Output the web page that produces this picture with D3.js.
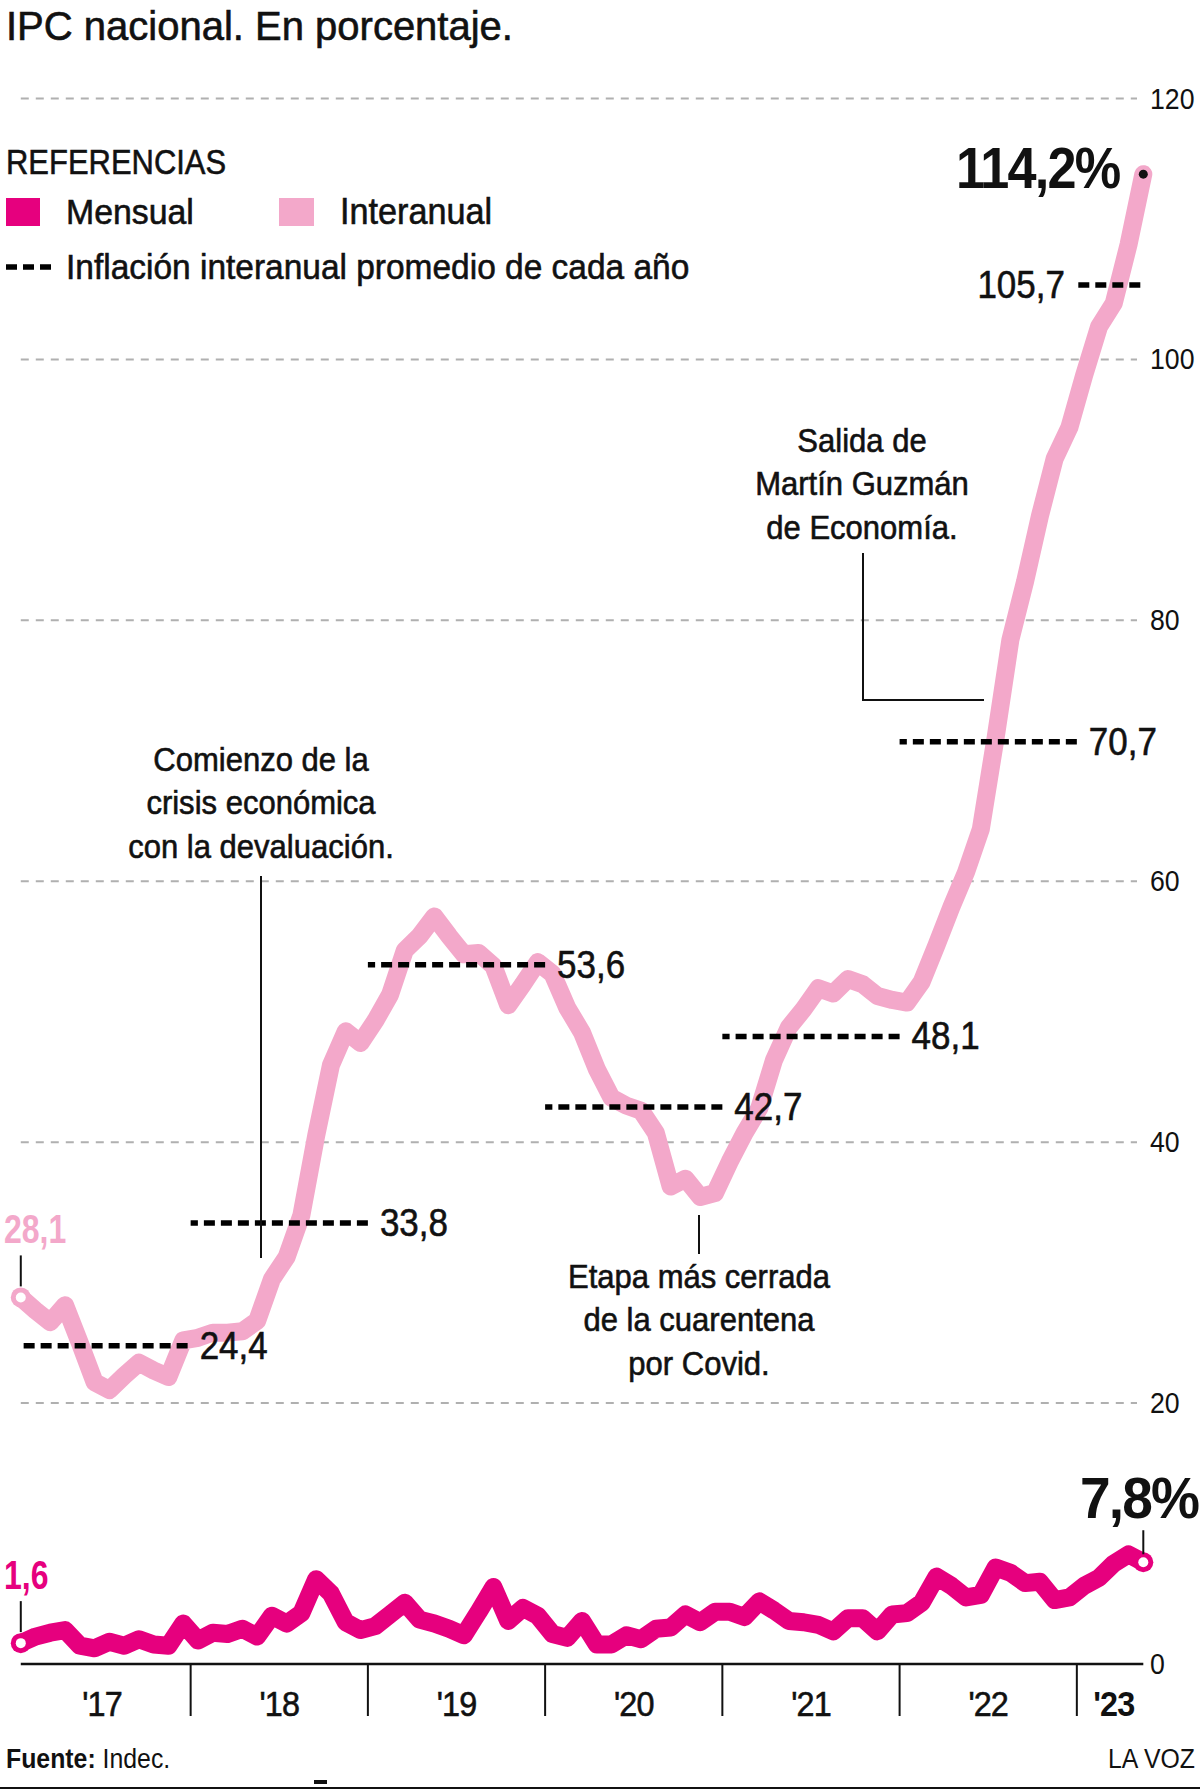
<!DOCTYPE html>
<meta charset="utf-8">
<script src="https://cdn.jsdelivr.net/npm/d3@7/dist/d3.min.js"></script>
<style>
body { margin: 0; background: #fff; }
text { font-family: "Liberation Sans", Arial, sans-serif; fill: #111; }
.med { stroke: #111; stroke-width: 0.6px; }
.grid { stroke: #b0b0b0; stroke-width: 2px; stroke-dasharray: 8,7; }
.avg { stroke: #000; stroke-width: 5.5px; stroke-dasharray: 11,6; }
.leader { stroke: #111; stroke-width: 2px; fill: none; }
</style>
<body>
<script>

var years = ["'17", "'18", "'19", "'20", "'21", "'22", "'23"];

// Interanual (%), ene 2017 - may 2023
var interanual = [
  28.1, 27.1, 26.2, 27.5, 24.6, 21.6, 21.0, 22.1, 23.1, 22.5, 22.0, 24.8,
  25.0, 25.4, 25.4, 25.5, 26.3, 29.5, 31.2, 34.4, 40.5, 45.9, 48.5, 47.6,
  49.3, 51.3, 54.7, 55.8, 57.3, 55.8, 54.4, 54.5, 53.5, 50.5, 52.1, 53.8,
  52.9, 50.3, 48.4, 45.6, 43.4, 42.8, 42.4, 40.7, 36.6, 37.2, 35.8, 36.1,
  38.5, 40.7, 42.6, 46.3, 48.8, 50.2, 51.8, 51.4, 52.5, 52.1, 51.2, 50.9,
  50.7, 52.3, 55.1, 58.0, 60.7, 64.0, 71.0, 78.5, 83.0, 88.0, 92.4, 94.8,
  98.8, 102.5, 104.3, 108.8, 114.2
];

// Mensual (%)
var mensual = [
  1.6, 2.1, 2.4, 2.6, 1.4, 1.2, 1.7, 1.4, 1.9, 1.5, 1.4, 3.1,
  1.8, 2.4, 2.3, 2.7, 2.1, 3.7, 3.1, 3.9, 6.5, 5.4, 3.2, 2.6,
  2.9, 3.8, 4.7, 3.4, 3.1, 2.7, 2.2, 4.0, 5.9, 3.3, 4.3, 3.7,
  2.3, 2.0, 3.3, 1.5, 1.5, 2.2, 1.9, 2.7, 2.8, 3.8, 3.2, 4.0,
  4.0, 3.6, 4.8, 4.1, 3.3, 3.2, 3.0, 2.5, 3.5, 3.5, 2.5, 3.8,
  3.9, 4.7, 6.7, 6.0, 5.1, 5.3, 7.4, 7.0, 6.2, 6.3, 4.9, 5.1,
  6.0, 6.6, 7.7, 8.4, 7.8
];

// Inflación interanual promedio de cada año
var promedios = [24.4, 33.8, 53.6, 42.7, 48.1, 70.7, 105.7];
var promLabels = ["24,4", "33,8", "53,6", "42,7", "48,1", "70,7", "105,7"];

var yTicks = [0, 20, 40, 60, 80, 100, 120];

var width = 1200, height = 1789;
var magenta = "#e6007e", pink = "#f3a8ca";

var svg = d3.select("body").append("svg")
    .attr("width", width)
    .attr("height", height);

var n = interanual.length;
var slot = 14.77, x0 = 13.4;
var x = d3.scaleLinear().domain([0, n]).range([x0, x0 + n * slot]);
var y = d3.scaleLinear().domain([0, 120]).range([1664, 98.5]);
function px(i) { return x(i + 0.5); }

var xFirst = px(0), xLast = px(n - 1);

// condensed text: squeeze horizontally around an anchor point
function squeezed(xp, yp, k) {
  return "translate(" + xp + "," + yp + ") scale(" + k + ",1)";
}

// title
svg.append("text").attr("class", "med")
    .attr("x", 6).attr("y", 40)
    .style("font-size", "40px")
    .text("IPC nacional. En porcentaje.");

// grid + y labels
svg.selectAll(".grid")
    .data(yTicks.filter(function(d) { return d > 0; }))
    .enter().append("line")
    .attr("class", "grid")
    .attr("x1", xFirst).attr("x2", 1137)
    .attr("y1", function(d) { return y(d); })
    .attr("y2", function(d) { return y(d); });

svg.selectAll(".ylab")
    .data(yTicks)
    .enter().append("text")
    .attr("class", "ylab")
    .attr("transform", function(d) { return squeezed(1150, y(d) + 10, 0.92); })
    .style("font-size", "29px")
    .text(function(d) { return d; });

// legend
svg.append("text").attr("class", "med")
    .attr("transform", squeezed(6, 174, 0.86))
    .style("font-size", "36px").text("REFERENCIAS");
svg.append("rect").attr("x", 6).attr("y", 198).attr("width", 34).attr("height", 28).attr("fill", magenta);
svg.append("text").attr("class", "med")
    .attr("transform", squeezed(66, 224, 0.94))
    .style("font-size", "36px").text("Mensual");
svg.append("rect").attr("x", 279).attr("y", 198).attr("width", 35).attr("height", 28).attr("fill", pink);
svg.append("text").attr("class", "med")
    .attr("transform", squeezed(340, 224, 0.95))
    .style("font-size", "36px").text("Interanual");
svg.append("line").attr("class", "avg").attr("x1", 6).attr("x2", 51).attr("y1", 267).attr("y2", 267);
svg.append("text").attr("class", "med")
    .attr("transform", squeezed(66, 279, 0.93))
    .style("font-size", "36px")
    .text("Inflación interanual promedio de cada año");

// lines
var line = d3.line()
    .x(function(d, i) { return px(i); })
    .y(function(d) { return y(d); });

svg.append("path")
    .datum(interanual)
    .attr("d", line)
    .attr("fill", "none")
    .attr("stroke", pink)
    .attr("stroke-width", 18)
    .attr("stroke-linejoin", "round")
    .attr("stroke-linecap", "round");

svg.append("path")
    .datum(mensual)
    .attr("d", line)
    .attr("fill", "none")
    .attr("stroke", magenta)
    .attr("stroke-width", 18)
    .attr("stroke-linejoin", "round")
    .attr("stroke-linecap", "round");

// year averages (drawn right to left so the dash pattern ends full at the label)
var avg = svg.append("g");
promedios.forEach(function(v, k) {
  var xs = k === 0 ? xFirst : x(12 * k);
  var xe = k === promedios.length - 1 ? xLast - 3 : x(12 * (k + 1)) - (k === 0 ? 3 : 0);
  avg.append("line").attr("class", "avg")
      .attr("x1", xe).attr("x2", xs)
      .attr("y1", y(v)).attr("y2", y(v));
  var last = k === promedios.length - 1;
  avg.append("text").attr("class", "med")
      .attr("transform", squeezed(last ? xs - 12 : xe + 12, y(v) + 13, 0.92))
      .attr("text-anchor", last ? "end" : "start")
      .style("font-size", "38px")
      .text(promLabels[k]);
});

// markers
svg.append("circle").attr("cx", xFirst).attr("cy", y(interanual[0])).attr("r", 10).attr("fill", pink);
svg.append("circle").attr("cx", xFirst).attr("cy", y(interanual[0])).attr("r", 5).attr("fill", "#fff");
svg.append("circle").attr("cx", xLast).attr("cy", y(interanual[n - 1])).attr("r", 4.5).attr("fill", "#111");
svg.append("circle").attr("cx", xFirst).attr("cy", y(mensual[0])).attr("r", 10).attr("fill", magenta);
svg.append("circle").attr("cx", xFirst).attr("cy", y(mensual[0])).attr("r", 5).attr("fill", "#fff");
svg.append("circle").attr("cx", xLast).attr("cy", y(mensual[n - 1])).attr("r", 10).attr("fill", magenta);
svg.append("circle").attr("cx", xLast).attr("cy", y(mensual[n - 1])).attr("r", 5).attr("fill", "#fff");

// point labels
svg.append("line").attr("class", "leader")
    .attr("x1", xFirst).attr("x2", xFirst)
    .attr("y1", y(interanual[0]) - 42).attr("y2", y(interanual[0]) - 11);
svg.append("text")
    .attr("transform", squeezed(4, y(interanual[0]) - 54, 0.8))
    .style("font-size", "40px").style("font-weight", "bold").style("fill", pink)
    .text("28,1");

svg.append("line").attr("class", "leader")
    .attr("x1", xFirst).attr("x2", xFirst)
    .attr("y1", y(mensual[0]) - 42).attr("y2", y(mensual[0]) - 11);
svg.append("text")
    .attr("transform", squeezed(4, y(mensual[0]) - 54, 0.8))
    .style("font-size", "40px").style("font-weight", "bold").style("fill", magenta)
    .text("1,6");

svg.append("text")
    .attr("transform", squeezed(xLast - 24, y(interanual[n - 1]) + 14, 0.9))
    .attr("text-anchor", "end")
    .style("font-size", "58px").style("font-weight", "bold").style("letter-spacing", "-2px")
    .text("114,2%");

svg.append("line").attr("class", "leader")
    .attr("x1", xLast).attr("x2", xLast)
    .attr("y1", y(mensual[n - 1]) - 32).attr("y2", y(mensual[n - 1]) - 8);
svg.append("text")
    .attr("transform", squeezed(1198, y(mensual[n - 1]) - 44, 0.95))
    .attr("text-anchor", "end")
    .style("font-size", "58px").style("font-weight", "bold").style("letter-spacing", "-2px")
    .text("7,8%");

// x axis
svg.append("line")
    .attr("x1", xFirst).attr("x2", xLast)
    .attr("y1", y(0)).attr("y2", y(0))
    .attr("stroke", "#111").attr("stroke-width", 2.5);

var bounds = d3.range(1, years.length).map(function(k) { return 12 * k; });
svg.selectAll(".ytick")
    .data(bounds)
    .enter().append("line")
    .attr("x1", function(d) { return x(d); })
    .attr("x2", function(d) { return x(d); })
    .attr("y1", y(0)).attr("y2", y(0) + 52)
    .attr("stroke", "#111").attr("stroke-width", 2);

svg.selectAll(".yearlab")
    .data(years)
    .enter().append("text")
    .attr("class", function(d, k) { return k === years.length - 1 ? "" : "med"; })
    .attr("transform", function(d, k) {
      return squeezed((x(12 * k) + x(Math.min(12 * (k + 1), n))) / 2, y(0) + 52, 0.9);
    })
    .attr("text-anchor", "middle")
    .style("font-size", "36px")
    .style("font-weight", function(d, k) { return k === years.length - 1 ? "bold" : "normal"; })
    .style("letter-spacing", "-1px")
    .text(function(d) { return d; });

// annotations
var notes = [
  {lines: ["Comienzo de la", "crisis económica", "con la devaluación."], cx: 261, top: 771,
   path: [[261, 876], [261, 1258]]},
  {lines: ["Salida de", "Martín Guzmán", "de Economía."], cx: 862, top: 452,
   path: [[863, 553], [863, 700], [984, 700]]},
  {lines: ["Etapa más cerrada", "de la cuarentena", "por Covid."], cx: 699, top: 1288,
   path: [[699, 1215], [699, 1254]]}
];
notes.forEach(function(nt) {
  svg.append("path").attr("class", "leader").attr("d", d3.line()(nt.path));
  var t = svg.append("text").attr("class", "med")
      .attr("text-anchor", "middle")
      .attr("transform", squeezed(nt.cx, 0, 0.94))
      .style("font-size", "33px");
  nt.lines.forEach(function(s, j) {
    t.append("tspan").attr("x", 0).attr("y", nt.top + j * 43.5).text(s);
  });
});

// footer
var f = svg.append("text").attr("transform", squeezed(6, 1768, 0.92)).style("font-size", "27px");
f.append("tspan").style("font-weight", "bold").text("Fuente:");
f.append("tspan").text(" Indec.");
svg.append("text").attr("transform", squeezed(1195, 1768, 0.92)).attr("text-anchor", "end")
    .style("font-size", "27px").text("LA VOZ");
svg.append("rect").attr("x", 314).attr("y", 1780).attr("width", 13).attr("height", 4).attr("fill", "#111");
svg.append("line").attr("x1", 0).attr("x2", width).attr("y1", 1788).attr("y2", 1788)
    .attr("stroke", "#111").attr("stroke-width", 2);

</script>
</body>
